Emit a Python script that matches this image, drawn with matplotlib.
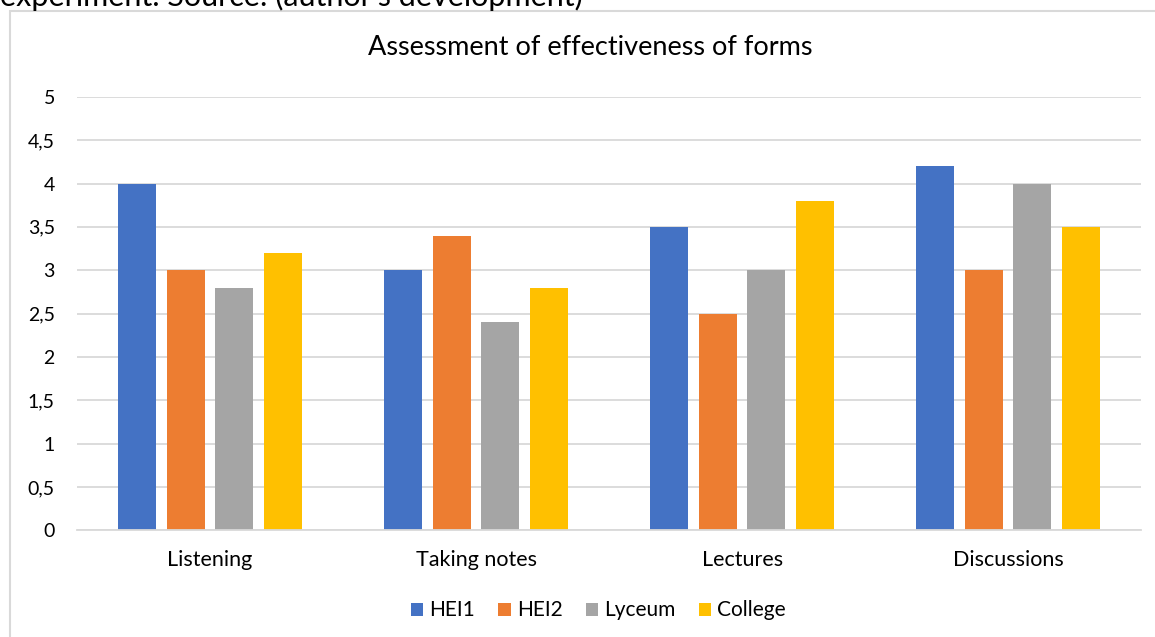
import matplotlib.pyplot as plt
import numpy as np
from matplotlib.patches import Rectangle

CATEGORIES = ["Listening", "Taking notes", "Lectures", "Discussions"]
SERIES = ["HEI1", "HEI2", "Lyceum", "College"]
HEI1 = [4.0, 3.0, 3.5, 4.2]
HEI2 = [3.0, 3.4, 2.5, 3.0]
LYCEUM = [2.8, 2.4, 3.0, 4.0]
COLLEGE = [3.2, 2.8, 3.8, 3.5]
Y_TICKS = [0, 0.5, 1, 1.5, 2, 2.5, 3, 3.5, 4, 4.5, 5]
Y_TICK_LABELS = ["0", "0,5", "1", "1,5", "2", "2,5", "3", "3,5", "4", "4,5", "5"]

COLORS = ["#4472C4", "#ED7D31", "#A5A5A5", "#FFC000"]

plt.rcParams["font.family"] = ["Lato", "DejaVu Sans"]

fig = plt.figure(figsize=(11.55, 6.37), dpi=100)
ax = fig.add_axes([0.0667, 0.1675, 0.9213, 0.6805])

x = np.arange(len(CATEGORIES))
width = 0.143
step = 0.1823
for i, (name, vals) in enumerate(zip(SERIES, [HEI1, HEI2, LYCEUM, COLLEGE])):
    ax.bar(x + (i - 1.5) * step, vals, width, color=COLORS[i], label=name, zorder=2)

ax.set_xlim(-0.5, len(CATEGORIES) - 0.5)
ax.set_ylim(0, 5)
ax.set_yticks(Y_TICKS)
ax.set_yticklabels(Y_TICK_LABELS)
ax.set_xticks(x)
ax.set_xticklabels(CATEGORIES)
ax.tick_params(axis="both", length=0, colors="#000000")
ax.tick_params(axis="y", pad=16, labelsize=14)
ax.tick_params(axis="x", pad=14, labelsize=15.5)
ax.grid(axis="y", color="#D9D9D9", linewidth=1.3, zorder=0)
for side in ["top", "right", "left"]:
    ax.spines[side].set_visible(False)
ax.spines["bottom"].set_color("#D9D9D9")
ax.spines["bottom"].set_linewidth(1.3)

fig.text(0.511, 0.925, "Assessment of effectiveness of forms", ha="center", va="center",
         fontsize=19.5, color="#000000")

# outer chart frame, as in the source document
fig.patches.append(Rectangle((0.009, -0.01), 1.1, 0.992, transform=fig.transFigure,
                             fill=False, edgecolor="#D9D9D9", linewidth=1.5))
# caption cut off at top of the screenshot
fig.text(0.0, 1.006, "experiment. Source: (author's development)", ha="left", va="center",
         fontsize=22, color="#000000")

ax.legend(loc="center", bbox_to_anchor=(0.49, -0.185), ncol=4, frameon=False, fontsize=15,
          handlelength=0.6, handleheight=0.6, handletextpad=0.3, columnspacing=1.1)

fig.savefig("out.png", dpi=100)
